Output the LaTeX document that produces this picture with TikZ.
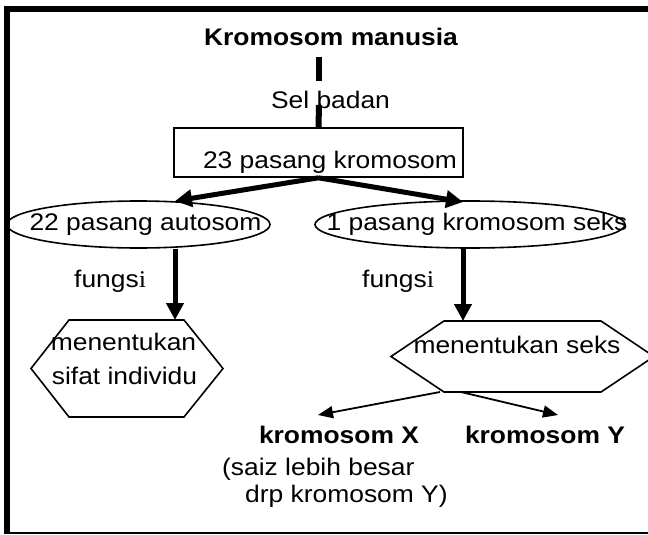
\documentclass[tikz,border=0pt]{standalone}
\usepackage{fontspec}
\setmainfont{Liberation Sans}[FakeStretch=1.1]
\newfontfamily\serfam{Liberation Serif}[FakeStretch=1.1]
\usetikzlibrary{arrows.meta,shapes.geometric}
\begin{document}
\begin{tikzpicture}[x=1pt,y=-1pt,
  txt/.style={inner sep=0pt, font=\fontsize{24}{28}\selectfont},
  btxt/.style={inner sep=0pt, font=\fontsize{24}{28}\selectfont\bfseries},
  shp/.style={draw, line width=1.6pt},
  bigarrow/.style={line width=5pt, -{Triangle[length=17pt,width=17pt]}},
  thinarrow/.style={line width=1.8pt, -{Triangle[length=15pt,width=12pt]}},
  bar/.style={line width=6pt}]
\useasboundingbox (0,0) rectangle (648,535);
\fill[white] (0,0) rectangle (648,535);
% frame
\draw[line width=6pt, line join=miter] (7,533) -- (7,9) -- (652,9);
\draw[line width=1.5pt] (4,533) -- (652,533);
% title and top
\node[btxt, anchor=base] (tit) at (331,46) {Kromosom manusia};
\node[txt, anchor=base] (sel) at (330.5,108) {Sel badan};
\node[shp, rectangle, inner sep=0pt, minimum width=289pt, minimum height=49pt] (box) at (318.5,152.5) {};
\node[txt, anchor=base] (boxt) at (330,168) {23 pasang kromosom};
\coordinate (b1a) at (319,57);
\coordinate (b1b) at (319,81);
\coordinate (b2a) at (319,105);
\draw[bar] (b1a) -- (b1b);
\draw[bar] (b2a) -- (box.north);
% ellipses
\node[shp, ellipse, inner sep=0pt, minimum width=263pt, minimum height=47pt] (ellL) at (138.5,224.5) {};
\node[txt, anchor=base] (ellLt) at (145.5,230) {22 pasang autosom};
\node[shp, ellipse, inner sep=0pt, minimum width=310pt, minimum height=47pt] (ellR) at (470,224.5) {};
\node[txt, anchor=base] (ellRt) at (477,230) {1 pasang kromosom seks};
\coordinate (tL) at (175,201);
\coordinate (tR) at (463,202);
\draw[bigarrow] (box.south) -- (tL);
\draw[bigarrow] (box.south) -- (tR);
% fungsi
\node[txt, anchor=base west] (fL) at (74,287) {fungs{\serfam i}};
\node[txt, anchor=base west] (fR) at (362,287) {fungs{\serfam i}};
% hexagons
\draw[shp] (31,368.5) -- (69,320) -- (184,320) -- (223,368.5) -- (184,417) -- (69,417) -- cycle;
\draw[shp] (391,356.5) -- (444,321) -- (601,321) -- (654,356.5) -- (601,392) -- (444,392) -- cycle;
\coordinate (hLt) at (175,320);
\coordinate (hRt) at (463,321);
\draw[bigarrow] (ellL.south -| hLt) -- (hLt);
\draw[bigarrow] (ellR.south -| hRt) -- (hRt);
\node[txt, anchor=base] (hL1) at (123.5,350) {menentukan};
\node[txt, anchor=base] (hL2) at (124.5,384) {sifat individu};
\node[txt, anchor=base] (hR1) at (517,353) {menentukan seks};
% X and Y
\coordinate (s1) at (440,392);
\coordinate (s2) at (461,392);
\coordinate (xt) at (318,415);
\coordinate (yt) at (558,415);
\draw[thinarrow] (s1) -- (xt);
\draw[thinarrow] (s2) -- (yt);
\node[btxt, anchor=base] (kx) at (339,443) {kromosom X};
\node[btxt, anchor=base] (ky) at (545,443) {kromosom Y};
\node[txt, anchor=base west] (n1) at (222,475) {(saiz lebih besar};
\node[txt, anchor=base west] (n2) at (245,502) {drp kromosom Y)};
\end{tikzpicture}
\end{document}
